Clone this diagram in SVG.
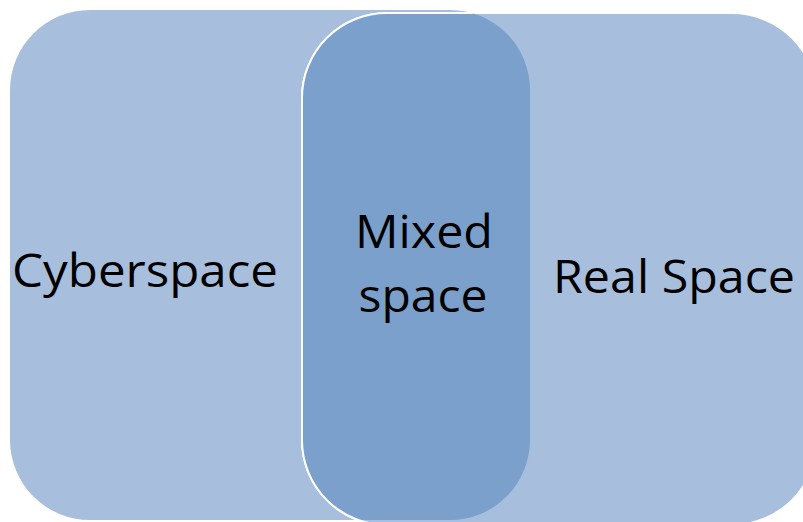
<svg xmlns="http://www.w3.org/2000/svg" width="803" height="522" viewBox="0 0 803 522">
  <style>
    .light { fill: #a7bfdd; }
    .dark { fill: #7ba0cb; }
    .lbl { font-family: "Open Sans", "Liberation Sans", sans-serif; font-size: 46px; fill: #000; text-anchor: middle; }
  </style>
  <defs>
    <clipPath id="leftClip">
      <rect x="10" y="10" width="520" height="510" rx="80" ry="80"/>
    </clipPath>
  </defs>
  <rect width="803" height="522" fill="#ffffff"/>
  <g id="cyberspace">
    <rect class="light" x="10" y="10" width="520" height="510" rx="80" ry="80"/>
  </g>
  <g id="realspace">
    <rect class="light" x="302" y="13" width="515" height="512" rx="85" ry="85" stroke="#ffffff" stroke-width="2"/>
  </g>
  <g id="mixedspace">
    <rect class="dark" x="302" y="13" width="515" height="512" rx="85" ry="85" stroke="#ffffff" stroke-width="2" clip-path="url(#leftClip)"/>
  </g>
  <g id="labels">
    <text class="lbl" x="145" y="287" textLength="266" lengthAdjust="spacingAndGlyphs">Cyberspace</text>
    <text class="lbl" x="424" y="248" textLength="138" lengthAdjust="spacingAndGlyphs">Mixed</text>
    <text class="lbl" x="423" y="312" textLength="129" lengthAdjust="spacingAndGlyphs">space</text>
    <text class="lbl" x="674" y="293" textLength="242" lengthAdjust="spacingAndGlyphs">Real Space</text>
  </g>
  <g id="connectors"/>
</svg>
